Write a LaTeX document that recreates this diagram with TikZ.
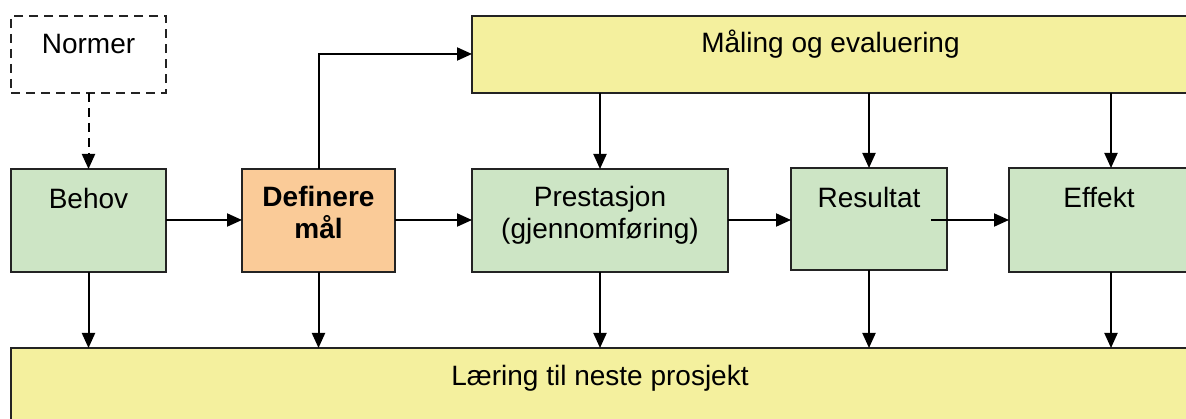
\documentclass[tikz,border=0pt]{standalone}
\usepackage{fontspec}
\setmainfont{Liberation Sans}
\usetikzlibrary{calc,arrows.meta}
\definecolor{boxgreen}{RGB}{205,229,197}
\definecolor{boxorange}{RGB}{250,203,152}
\definecolor{boxyellow}{RGB}{244,240,158}
\definecolor{edge}{RGB}{35,35,35}
\tikzset{
  box/.style={draw=edge, line width=1.9pt, rectangle, inner sep=0pt, outer sep=0pt},
  gbox/.style={box, fill=boxgreen},
  obox/.style={box, fill=boxorange},
  ybox/.style={box, fill=boxyellow},
  lbl/.style={inner sep=0pt, align=center, font=\fontsize{28}{32}\selectfont},
  arr/.style={line width=2pt, -{Triangle[length=15pt,width=13pt]}},
  dasharr/.style={arr, dash pattern=on 9pt off 6pt},
}
\begin{document}
\begin{tikzpicture}[x=1pt,y=-1pt]
\useasboundingbox (0,0) rectangle (1186,419);
\clip (0,0) rectangle (1186,419);
% boxes
\node[box, dash pattern=on 9pt off 6pt, fill=white, minimum width=155pt, minimum height=77pt] (normer) at (88.5,54.5) {};
\node[gbox, minimum width=155pt, minimum height=103pt] (behov) at (88.5,220.5) {};
\node[obox, minimum width=153pt, minimum height=103pt] (def) at (318.5,220.5) {};
\node[ybox, minimum width=717pt, minimum height=77pt] (maal) at (830.5,54.5) {};
\node[gbox, minimum width=256pt, minimum height=103pt] (prest) at (600,220.5) {};
\node[gbox, minimum width=156pt, minimum height=102pt] (res) at (869,219) {};
\node[gbox, minimum width=180pt, minimum height=104pt] (eff) at (1099,220) {};
\node[ybox, minimum width=1178pt, minimum height=82pt] (laer) at (600,389) {};
% labels
\node[lbl] (normerT) at ($(normer.north)+(0,28)$) {Normer};
\node[lbl] (behovT) at ($(behov.north)+(0,29)$) {Behov};
\node[lbl, anchor=north, font=\fontsize{28}{32}\selectfont\bfseries] (defT) at ($(def.north)+(0,17)$) {Definere\\mål};
\node[lbl] (maalT) at ($(maal.north)+(0,28)$) {Måling og evaluering};
\node[lbl, anchor=north] (prestT) at ($(prest.north)+(0,17)$) {Prestasjon\\(gjennomføring)};
\node[lbl] (resT) at ($(res.north)+(0,29)$) {Resultat};
\node[lbl] (effT) at ($(eff.north)+(0,29)$) {Effekt};
\node[lbl] (laerT) at ($(laer.north)+(0,30)$) {Læring til neste prosjekt};
% helper coordinates
\coordinate (effx) at (1111,0);
\coordinate (resstart) at (931,220);
% connectors
\draw[dasharr] (normer.south) -- (behov.north);
\draw[arr] (behov.east |- 0,220) -- (def.west |- 0,220);
\draw[arr] (def.east |- 0,220) -- (prest.west |- 0,220);
\draw[arr] (prest.east |- 0,220) -- (res.west |- 0,220);
\draw[arr] (resstart) -- (eff.west |- resstart);
\draw[arr] (def.north) |- (maal.west |- 0,54);
\draw[arr] (prest.north |- maal.south) -- (prest.north);
\draw[arr] (res.north |- maal.south) -- (res.north);
\draw[arr] (effx |- maal.south) -- (effx |- eff.north);
\draw[arr] (behov.south) -- (behov.south |- laer.north);
\draw[arr] (def.south) -- (def.south |- laer.north);
\draw[arr] (prest.south) -- (prest.south |- laer.north);
\draw[arr] (res.south) -- (res.south |- laer.north);
\draw[arr] (effx |- eff.south) -- (effx |- laer.north);
\end{tikzpicture}
\end{document}
